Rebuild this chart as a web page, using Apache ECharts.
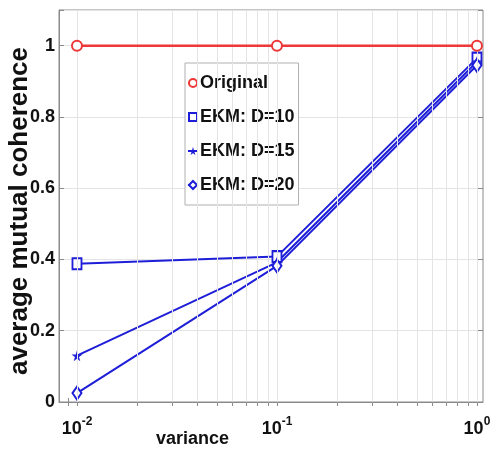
<!DOCTYPE html>
<html>
<head>
<meta charset="utf-8">
<script src="https://cdn.jsdelivr.net/npm/echarts@6/dist/echarts.min.js"></script>
<style>html,body{margin:0;padding:0;background:#fff;}#c{width:491px;height:452px;}</style>
</head>
<body>
<div id="c"></div>
<script>
// ---- data ----
const variance = [0.01, 0.1, 1];
const seriesNames = ['Original', 'EKM: D=10', 'EKM: D=15', 'EKM: D=20'];
const original = [1.0, 1.0, 1.0];
const ekmD10 = [0.388, 0.408, 0.965];
const ekmD15 = [0.130, 0.392, 0.955];
const ekmD20 = [0.025, 0.382, 0.945];
const xTickValues = [0.01, 0.1, 1];
const xTickExponents = ['-2', '-1', '0'];
const yTickValues = [0, 0.2, 0.4, 0.6, 0.8, 1];
const xMin = 0.00813, xMax = 1.072;
const yMin = 0, yMax = 1.1;
const xTitle = 'variance';
const yTitle = 'average mutual coherence';
// minor log positions (k × decade) for grid lines and ticks
const minorPositions = [];
[0.001, 0.01, 0.1, 1].forEach(d => { for (let k = 1; k <= 9; k++) { const v = +(k * d).toPrecision(3); if (v >= xMin && v <= xMax) minorPositions.push(v); } });

const RED = '#ee3838';
const BLUE = '#1e1ed8';
const FONT = '"Liberation Sans", Arial, sans-serif';
const STAR = 'path://M50,0 L61,35 L98,35 L68,57 L79,91 L50,70 L21,91 L32,57 L2,35 L39,35 Z';

function pts(ys) { return variance.map((x, i) => [x, ys[i]]); }

const chart = echarts.init(document.getElementById('c'), null, { renderer: 'canvas' });

const expOf = {};
xTickValues.forEach((v, i) => expOf[v] = xTickExponents[i]);

const option = {
  backgroundColor: '#fff',
  animation: false,
  grid: { left: 59, right: 8, top: 10, bottom: 50, containLabel: false, outerBoundsMode: 'none', show: true, borderColor: '#8a8a8a', borderWidth: 1, backgroundColor: '#fff' },
  legend: {
    left: 185, top: 63, width: 114, height: 139,
    orient: 'vertical',
    backgroundColor: '#fff',
    borderColor: '#b0b0b0', borderWidth: 1,
    padding: [10, 4, 10, 2],
    itemGap: 14,
    itemWidth: 10, itemHeight: 10,
    textStyle: { fontFamily: FONT, fontWeight: 'bold', fontSize: 18, color: '#111', padding: [0, 0, 0, -3], lineHeight: 20 },
    data: seriesNames
  },
  xAxis: [{
    type: 'log', logBase: 10, min: xMin, max: xMax,
    position: 'bottom',
    axisLine: { show: true, lineStyle: { color: '#8a8a8a', width: 1 } },
    axisTick: { show: true, inside: true, length: 4, customValues: minorPositions, lineStyle: { color: '#8a8a8a' } },
    splitLine: { show: false },
    axisLabel: {
      customValues: xTickValues,
      margin: 14,
      formatter: function (v) {
        const key = Object.keys(expOf).find(k => Math.abs(Math.log10(+k) - Math.log10(v)) < 1e-6);
        return key ? '{b|10}{s|' + expOf[key] + '}' : '';
      },
      rich: {
        b: { fontFamily: FONT, fontWeight: 'bold', fontSize: 18, color: '#111', lineHeight: 22, verticalAlign: 'bottom' },
        s: { fontFamily: FONT, fontWeight: 'bold', fontSize: 12, color: '#111', verticalAlign: 'top', lineHeight: 12 }
      }
    }
  }, {
    type: 'log', logBase: 10, min: xMin, max: xMax,
    position: 'top',
    axisLine: { show: false },
    axisTick: { show: true, inside: true, length: 4, customValues: minorPositions, lineStyle: { color: '#8a8a8a' } },
    axisLabel: { show: false },
    splitLine: { show: false }
  }],
  yAxis: [{
    type: 'value', min: yMin, max: yMax, interval: 0.2,
    axisLine: { show: true, lineStyle: { color: '#8a8a8a', width: 1 } },
    axisTick: { show: true, inside: true, length: 5, lineStyle: { color: '#8a8a8a' } },
    splitLine: { show: true, lineStyle: { color: '#e4e4e4', width: 1 } },
    axisLabel: {
      customValues: yTickValues,
      margin: 4,
      fontFamily: FONT, fontWeight: 'bold', fontSize: 18, color: '#111',
      formatter: function (v) { return v > 1.05 ? '' : String(+v.toFixed(1)); }
    }
  }, {
    type: 'value', min: yMin, max: yMax, interval: 0.2,
    position: 'right',
    axisLine: { show: false },
    axisTick: { show: true, inside: true, length: 5, lineStyle: { color: '#8a8a8a' } },
    axisLabel: { show: false },
    splitLine: { show: false }
  }],
  series: [
    {
      name: 'grid', type: 'line', data: [], silent: true,
      markLine: {
        silent: true, symbol: 'none', animation: false,
        label: { show: false },
        lineStyle: { color: '#e4e4e4', width: 1, type: 'solid' },
        data: minorPositions.map(v => ({ xAxis: v }))
      }
    },
    {
      name: seriesNames[0], type: 'line', data: pts(original),
      symbol: 'emptyCircle', symbolSize: 10,
      lineStyle: { color: RED, width: 2.5 }, itemStyle: { color: RED, borderWidth: 2 }, z: 5
    },
    {
      name: seriesNames[1], type: 'line', data: pts(ekmD10),
      symbol: 'emptyRect', symbolSize: [9, 11],
      lineStyle: { color: BLUE, width: 2 }, itemStyle: { color: BLUE, borderWidth: 1.5 }, z: 4
    },
    {
      name: seriesNames[2], type: 'line', data: pts(ekmD15),
      symbol: STAR, symbolSize: 11,
      lineStyle: { color: BLUE, width: 2 }, itemStyle: { color: BLUE }, z: 4
    },
    {
      name: seriesNames[3], type: 'line', data: pts(ekmD20),
      symbol: 'emptyDiamond', symbolSize: [9, 13],
      lineStyle: { color: BLUE, width: 2 }, itemStyle: { color: BLUE, borderWidth: 1.5 }, z: 4
    }
  ],
  graphic: [{
    type: 'text', left: 156, top: 430,
    style: { text: xTitle, fontFamily: FONT, fontWeight: 'bold', fontSize: 18, fill: '#111' }
  }, {
    type: 'text', x: 20, y: 211, rotation: Math.PI / 2,
    style: { text: yTitle, fontFamily: FONT, fontWeight: 'bold', fontSize: 26, fill: '#111', align: 'center', verticalAlign: 'middle' }
  }]
};
chart.setOption(option);
</script>
</body>
</html>
